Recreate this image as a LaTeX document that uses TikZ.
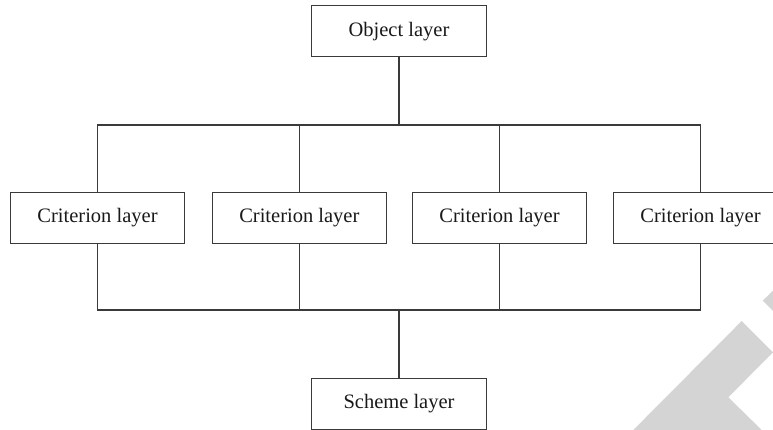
\documentclass[tikz,border=0pt]{standalone}
\usepackage{fontspec}
\setmainfont{Liberation Serif}
\definecolor{linegray}{HTML}{3A3A3A}
\definecolor{wmgray}{HTML}{D4D4D4}
\begin{document}
\begin{tikzpicture}[x=1pt,y=-1pt,
  layerbox/.style={draw=linegray, line width=1.1pt, minimum width=174.5pt, minimum height=51pt, inner sep=0pt, font=\fontsize{20.5}{24}\selectfont, text=black!90},
  wire/.style={draw=linegray, line width=1.1pt}]
\useasboundingbox (0,0) rectangle (773,430);
\clip (0,0) rectangle (773,430);
% watermark
\fill[wmgray] (773,290.7) -- (762.7,300.7) -- (773,311) -- cycle;
\fill[wmgray] (741.7,321) -- (773,352.3) -- (728.3,397.3) -- (761.7,430) -- (633.3,430) -- cycle;
% nodes
\node[layerbox] (obj) at (399,31.2) {Object layer};
\node[layerbox] (c1) at (97.5,217.8) {Criterion layer};
\node[layerbox] (c2) at (299.3,217.8) {Criterion layer};
\node[layerbox] (c3) at (499.5,217.8) {Criterion layer};
\node[layerbox] (c4) at (700.5,217.8) {Criterion layer};
\node[layerbox] (sch) at (399,403.6) {Scheme layer};
\coordinate (tb) at (0,125);
\coordinate (bb) at (0,310);
% connectors
\draw[wire] (obj.south) -- (obj.south |- tb);
\draw[wire] (c1.north) -- (c1.north |- tb) -- (c4.north |- tb) -- (c4.north);
\draw[wire] (c2.north) -- (c2.north |- tb);
\draw[wire] (c3.north) -- (c3.north |- tb);
\draw[wire] (c1.south) -- (c1.south |- bb) -- (c4.south |- bb) -- (c4.south);
\draw[wire] (c2.south) -- (c2.south |- bb);
\draw[wire] (c3.south) -- (c3.south |- bb);
\draw[wire] (sch.north) -- (sch.north |- bb);
\end{tikzpicture}
\end{document}
